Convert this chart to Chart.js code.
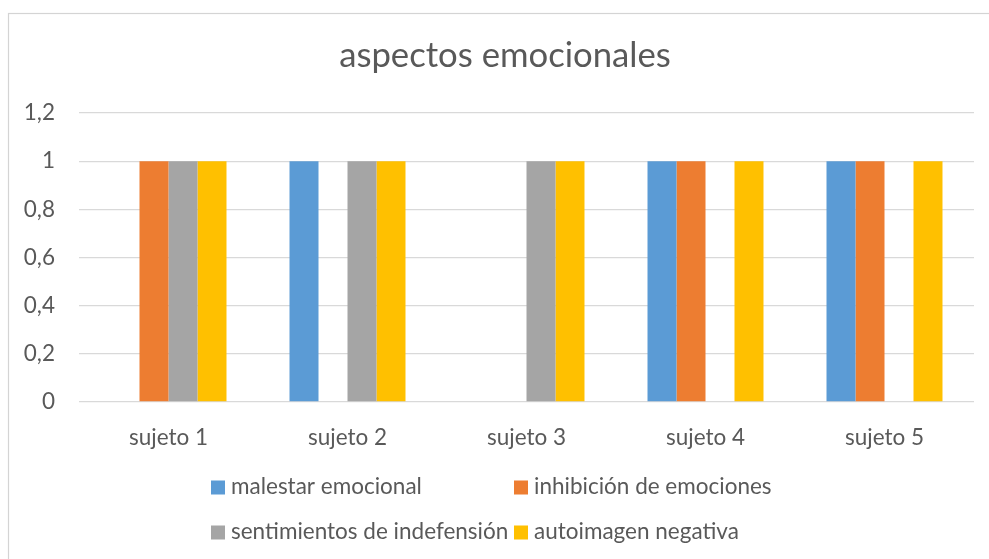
<!DOCTYPE html>
<html>
<head>
<meta charset="utf-8">
<script src="https://cdn.jsdelivr.net/npm/chart.js@4/dist/chart.umd.min.js"></script>
<style>
  html, body { margin: 0; padding: 0; background: #ffffff; }
  #wrap { width: 989px; height: 559px; }
</style>
</head>
<body>
<div id="wrap"><canvas id="c" width="989" height="559"></canvas></div>
<script>
const titleText = "aspectos emocionales";
const categories = ["sujeto 1", "sujeto 2", "sujeto 3", "sujeto 4", "sujeto 5"];
const seriesNames = ["malestar emocional", "inhibición de emociones", "sentimientos de indefensión", "autoimagen negativa"];
const malestarEmocional = [0, 1, 0, 1, 1];
const inhibicionEmociones = [1, 0, 0, 1, 1];
const sentimientosIndefension = [1, 1, 1, 0, 0];
const autoimagenNegativa = [1, 1, 1, 1, 1];
const seriesColors = ["#5B9BD5", "#ED7D31", "#A5A5A5", "#FFC000"];
const yMin = 0, yMax = 1.2, yStep = 0.2;

const FONT = "Lato";
const TEXT = "#595959";
const GRID = "#D9D9D9";

const seriesValues = [malestarEmocional, inhibicionEmociones, sentimientosIndefension, autoimagenNegativa];

const frameTitleLegend = {
  id: "frameTitleLegend",
  beforeDraw(chart) {
    const ctx = chart.ctx;
    ctx.save();
    ctx.fillStyle = "#ffffff";
    ctx.fillRect(0, 0, chart.width, chart.height);
    ctx.strokeStyle = "#D4D4D4";
    ctx.lineWidth = 1.2;
    ctx.strokeRect(8.5, 13.5, 1100, 700);
    ctx.restore();
  },
  afterDraw(chart) {
    const ctx = chart.ctx;
    const ds = chart.data.datasets;
    ctx.save();
    // title
    ctx.font = "34.7px " + FONT;
    ctx.fillStyle = TEXT;
    ctx.textAlign = "center";
    ctx.textBaseline = "alphabetic";
    ctx.fillText(titleText, 505, 67);
    // legend (2 columns x 2 rows)
    ctx.font = "22.5px " + FONT;
    ctx.textAlign = "left";
    const box = 14, gap = 6;
    const colX = [211, 514];
    const rowBaseline = [494, 539];
    ds.forEach((d, i) => {
      const c = i % 2, r = Math.floor(i / 2);
      const x = colX[c], base = rowBaseline[r];
      ctx.fillStyle = d.backgroundColor;
      ctx.fillRect(x, base - 13.5, box, box);
      ctx.fillStyle = TEXT;
      ctx.fillText(d.label, x + box + gap, base);
    });
    ctx.restore();
  }
};

new Chart(document.getElementById("c"), {
  type: "bar",
  data: {
    labels: categories,
    datasets: seriesNames.map((name, i) => ({
      label: name,
      data: seriesValues[i],
      backgroundColor: seriesColors[i],
      borderWidth: 0,
      categoryPercentage: 0.648,
      barPercentage: 1.0
    }))
  },
  options: {
    responsive: false,
    animation: false,
    devicePixelRatio: 1,
    layout: { padding: { left: 0, right: 15, top: 113, bottom: 0 } },
    plugins: {
      legend: { display: false },
      tooltip: { enabled: false },
      title: { display: false }
    },
    scales: {
      x: {
        grid: { display: false },
        border: { display: false },
        ticks: { color: TEXT, font: { family: FONT, size: 22.5 }, padding: 14, maxRotation: 0 },
        afterFit(scale) { scale.height = 157; }
      },
      y: {
        min: yMin,
        max: yMax,
        ticks: {
          stepSize: yStep,
          color: TEXT,
          font: { family: FONT, size: 22.5 },
          padding: 24,
          callback: v => String(Math.round(v * 10) / 10).replace(".", ",")
        },
        grid: { color: GRID, lineWidth: 1.3, drawTicks: false },
        border: { display: false },
        afterFit(scale) { scale.width = 79; }
      }
    }
  },
  plugins: [frameTitleLegend]
});
</script>
</body>
</html>
